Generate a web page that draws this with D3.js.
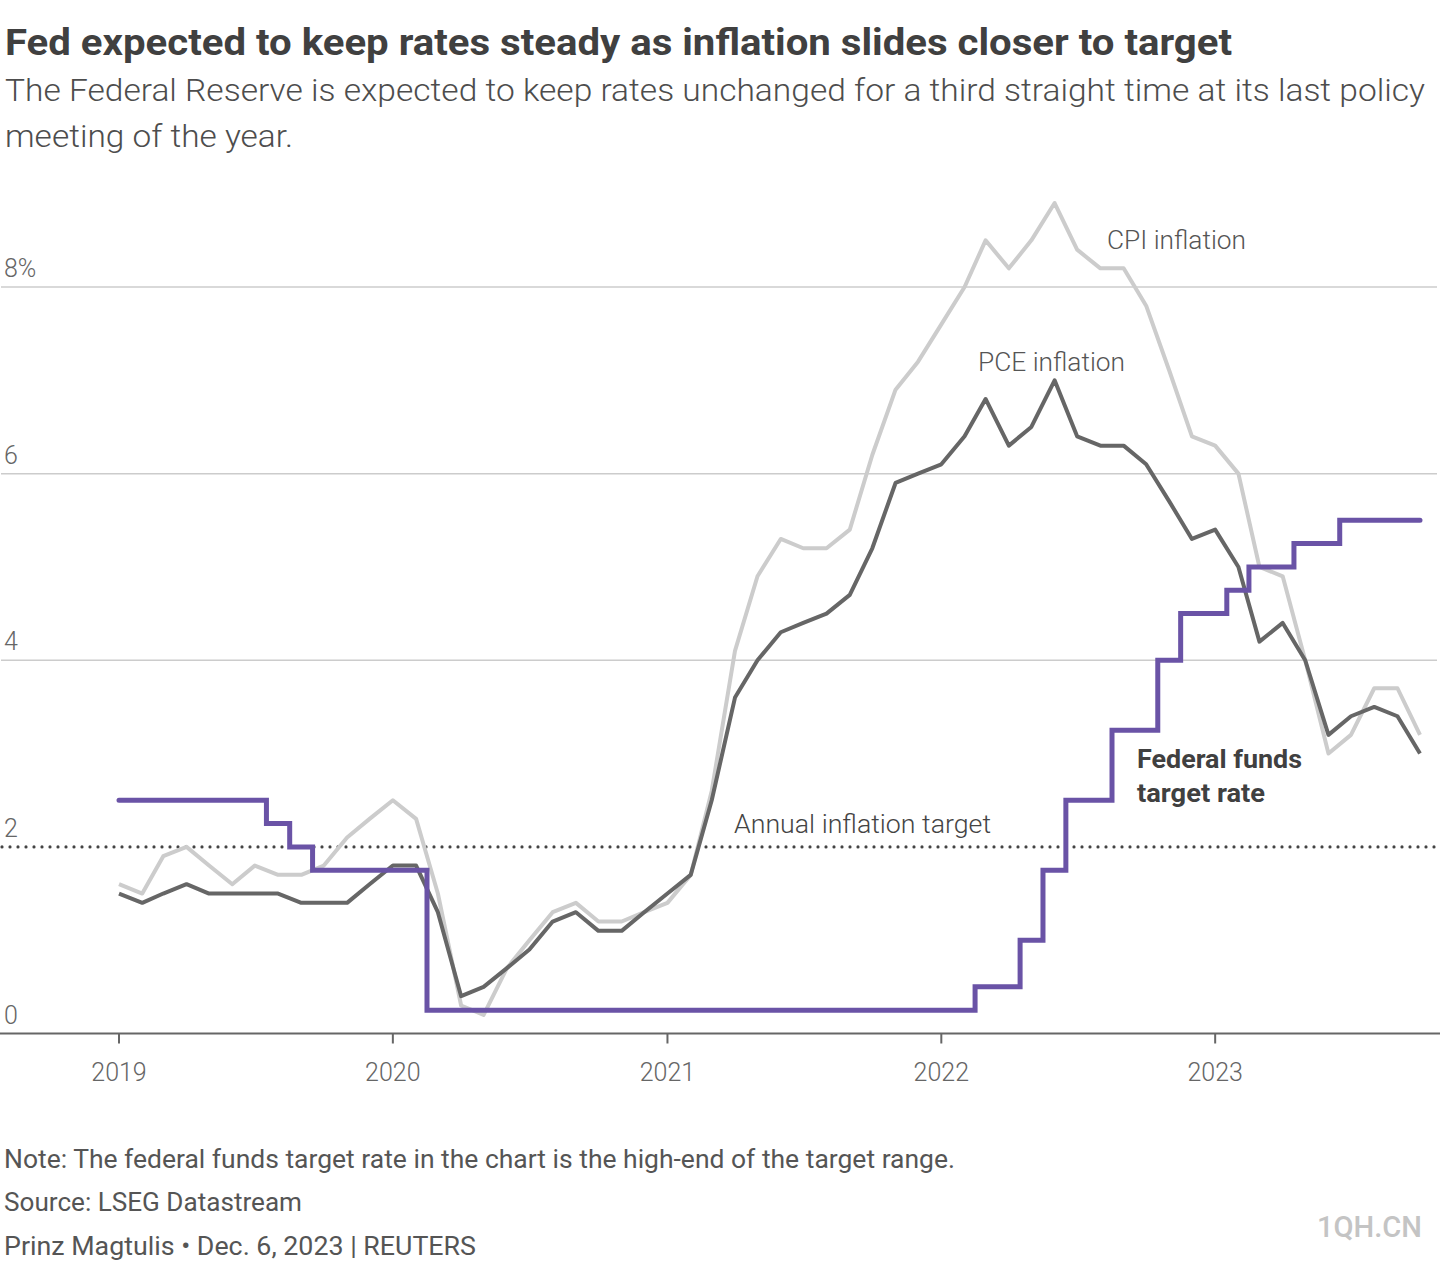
<!DOCTYPE html>
<html>
<head>
<meta charset="utf-8">
<script src="https://cdn.jsdelivr.net/npm/d3@7"></script>
<style>
  body { margin: 0; background: #fff; }
  svg { display: block; font-family: Roboto, "Noto Sans", sans-serif; }
</style>
</head>
<body>
<div id="chart"></div>
<script>
// monthly data, Jan 2019 .. Oct 2023
var startMonth = new Date(2019, 0, 1);
var endMonth = new Date(2023, 9, 1);

var cpiValues = [
    1.6, 1.5, 1.9, 2.0, 1.8, 1.6, 1.8, 1.7, 1.7, 1.8, 2.1, 2.3,
    2.5, 2.3, 1.5, 0.3, 0.2, 0.7, 1.0, 1.3, 1.4, 1.2, 1.2, 1.3,
    1.4, 1.7, 2.6, 4.1, 4.9, 5.3, 5.2, 5.2, 5.4, 6.2, 6.9, 7.2,
    7.6, 8.0, 8.5, 8.2, 8.5, 8.9, 8.4, 8.2, 8.2, 7.8, 7.1, 6.4,
    6.3, 6.0, 5.0, 4.9, 4.0, 3.0, 3.2, 3.7, 3.7, 3.2
];

var pceValues = [
    1.5, 1.4, 1.5, 1.6, 1.5, 1.5, 1.5, 1.5, 1.4, 1.4, 1.4, 1.6,
    1.8, 1.8, 1.3, 0.4, 0.5, 0.7, 0.9, 1.2, 1.3, 1.1, 1.1, 1.3,
    1.5, 1.7, 2.5, 3.6, 4.0, 4.3, 4.4, 4.5, 4.7, 5.2, 5.9, 6.0,
    6.1, 6.4, 6.8, 6.3, 6.5, 7.0, 6.4, 6.3, 6.3, 6.1, 5.7, 5.3,
    5.4, 5.0, 4.2, 4.4, 4.0, 3.2, 3.4, 3.5, 3.4, 3.0
];

var fedValues = [
    2.5, 2.5, 2.5, 2.5, 2.5, 2.5, 2.5, 2.25, 2.0, 1.75, 1.75, 1.75,
    1.75, 1.75, 0.25, 0.25, 0.25, 0.25, 0.25, 0.25, 0.25, 0.25, 0.25, 0.25,
    0.25, 0.25, 0.25, 0.25, 0.25, 0.25, 0.25, 0.25, 0.25, 0.25, 0.25, 0.25,
    0.25, 0.25, 0.5, 0.5, 1.0, 1.75, 2.5, 2.5, 3.25, 3.25, 4.0, 4.5,
    4.5, 4.75, 5.0, 5.0, 5.25, 5.25, 5.5, 5.5, 5.5, 5.5
];

var yTicks = [0, 2, 4, 6, 8];
var yTickLabels = ["0", "2", "4", "6", "8%"];
var xTicks = [2019, 2020, 2021, 2022, 2023];
var inflationTarget = 2;

var months = d3.timeMonth.range(startMonth, d3.timeMonth.offset(endMonth, 1));

var width = 1440, height = 1264;

var svg = d3.select("#chart").append("svg")
    .attr("width", width)
    .attr("height", height);

var x = d3.scaleTime()
    .domain([startMonth, endMonth])
    .range([119, 1420]);

var y = d3.scaleLinear()
    .domain([0, 8])
    .range([1033.5, 287]);

// helper for text with a fixed width
function addText(str, tx, ty, size, weight, color, len, anchor) {
    var t = svg.append("text")
        .attr("x", tx)
        .attr("y", ty)
        .style("font-size", size + "px")
        .style("font-weight", weight)
        .style("fill", color)
        .text(str);
    if (len) {
        t.attr("textLength", len).attr("lengthAdjust", "spacingAndGlyphs");
    }
    if (anchor) t.attr("text-anchor", anchor);
    return t;
}

// titles
addText("Fed expected to keep rates steady as inflation slides closer to target", 5, 55, 36, 700, "#404040", 1227);
addText("The Federal Reserve is expected to keep rates unchanged for a third straight time at its last policy", 5, 101, 31, 300, "#4d4d4d", 1420);
addText("meeting of the year.", 5, 147, 31, 300, "#4d4d4d", 288);

// gridlines
svg.append("g").selectAll("line")
    .data(yTicks.filter(function (d) { return d !== 0 && d !== inflationTarget; }))
    .enter().append("line")
    .attr("x1", 1)
    .attr("x2", 1437)
    .attr("y1", function (d) { return y(d); })
    .attr("y2", function (d) { return y(d); })
    .style("stroke", "#cccccc")
    .style("stroke-width", 1.5);

// y labels
svg.append("g").selectAll("text")
    .data(yTicks)
    .enter().append("text")
    .attr("x", 4)
    .attr("y", function (d) { return y(d) - 10; })
    .style("font-size", "25px")
    .style("font-weight", 300)
    .style("fill", "#666")
    .text(function (d, i) { return yTickLabels[i]; });

// inflation target dotted line
svg.append("line")
    .attr("x1", 2)
    .attr("x2", 1438)
    .attr("y1", y(inflationTarget))
    .attr("y2", y(inflationTarget))
    .style("stroke", "#444")
    .style("stroke-width", 3.2)
    .style("stroke-linecap", "round")
    .style("stroke-dasharray", "0 8");

// x axis
svg.append("line")
    .attr("x1", 0)
    .attr("x2", 1440)
    .attr("y1", y(0))
    .attr("y2", y(0))
    .style("stroke", "#666")
    .style("stroke-width", 2);

var xAxis = svg.append("g");
xAxis.selectAll("line")
    .data(xTicks)
    .enter().append("line")
    .attr("x1", function (d) { return x(new Date(d, 0, 1)); })
    .attr("x2", function (d) { return x(new Date(d, 0, 1)); })
    .attr("y1", y(0))
    .attr("y2", y(0) + 10)
    .style("stroke", "#666")
    .style("stroke-width", 2);

xAxis.selectAll("text")
    .data(xTicks)
    .enter().append("text")
    .attr("x", function (d) { return x(new Date(d, 0, 1)); })
    .attr("y", 1081)
    .attr("text-anchor", "middle")
    .style("font-size", "25px")
    .style("font-weight", 300)
    .style("fill", "#666")
    .text(function (d) { return d; });

// lines
function series(values) {
    return months.map(function (m, i) { return { date: m, value: values[i] }; });
}

var line = d3.line()
    .x(function (d) { return x(d.date); })
    .y(function (d) { return y(d.value); });

var stepLine = d3.line()
    .curve(d3.curveStep)
    .x(function (d) { return x(d.date); })
    .y(function (d) { return y(d.value); });

svg.append("path")
    .datum(series(cpiValues))
    .attr("d", line)
    .style("fill", "none")
    .style("stroke", "#cccccc")
    .style("stroke-width", 4)
    .style("stroke-linejoin", "round");

svg.append("path")
    .datum(series(pceValues))
    .attr("d", line)
    .style("fill", "none")
    .style("stroke", "#666666")
    .style("stroke-width", 4)
    .style("stroke-linejoin", "round");

svg.append("path")
    .datum(series(fedValues))
    .attr("d", stepLine)
    .style("fill", "none")
    .style("stroke", "#6a53a6")
    .style("stroke-width", 5)
    .style("stroke-linecap", "round")
    .style("stroke-linejoin", "miter");

// annotations
addText("CPI inflation", 1107, 249, 25, 300, "#555", 139);
addText("PCE inflation", 978, 371, 25, 300, "#555", 147);
addText("Annual inflation target", 734, 833, 25, 300, "#444", 257);
addText("Federal funds", 1137, 768, 25, 700, "#404040", 165);
addText("target rate", 1137, 802, 25, 700, "#404040", 128);

// footer
addText("Note: The federal funds target rate in the chart is the high-end of the target range.", 4, 1168, 25, 400, "#555", 951);
addText("Source: LSEG Datastream", 4, 1211, 25, 400, "#555", 298);
addText("Prinz Magtulis \u2022 Dec. 6, 2023 | REUTERS", 4, 1255, 25, 400, "#555", 472);
addText("1QH.CN", 1422, 1237, 30, 500, "#c4c4c4", 105, "end");
</script>
</body>
</html>
